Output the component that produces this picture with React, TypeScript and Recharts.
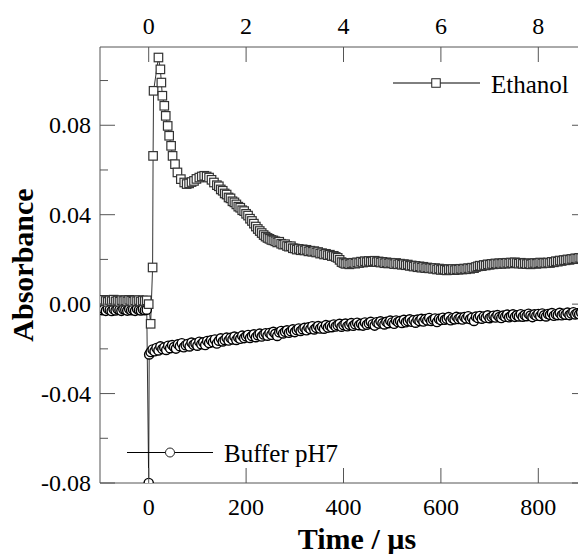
import { LineChart, Line, XAxis, YAxis, Customized } from 'recharts';

// Ethanol transient (time in µs, absorbance)
const ethanolTime = [
  -100, -96, -92, -88, -84, -80, -76, -72, -68, -64, -60, -56, -52, -48, -44, -40, -36, -32, -28, -24, -20, -16, -12, -8, -4,
  0, 4, 8, 9, 10, 20, 24, 26, 28, 32, 35, 39, 42, 46, 49, 54, 59, 66, 73, 78, 83, 88, 93, 98,
  104, 109, 114, 119, 124, 129, 134,
  140, 144, 148, 152, 156, 160, 164, 168, 172, 176,
  180, 184, 188, 192, 196, 200, 204, 208, 212, 216,
  220, 224, 228, 232, 236, 240, 244, 248, 252, 256,
  260, 264, 268, 272, 276, 280, 284, 288, 292, 296,
  300, 304, 308, 312, 316, 320, 324, 328, 332, 336,
  340, 344, 348, 352, 356, 360, 364, 368, 372, 376,
  380, 384, 388, 392, 396, 400, 404, 408, 412, 416,
  420, 424, 428, 432, 436, 440, 444, 448, 452, 456,
  460, 464, 468, 472, 476, 480, 484, 488, 492, 496,
  500, 504, 508, 512, 516, 520, 524, 528, 532, 536,
  540, 544, 548, 552, 556, 560, 564, 568, 572, 576,
  580, 584, 588, 592, 596, 600, 604, 608, 612, 616,
  620, 624, 628, 632, 636, 640, 644, 648, 652, 656,
  660, 664, 668, 672, 676, 680, 684, 688, 692, 696,
  700, 704, 708, 712, 716, 720, 724, 728, 732, 736,
  740, 744, 748, 752, 756, 760, 764, 768, 772, 776,
  780, 784, 788, 792, 796, 800, 804, 808, 812, 816,
  820, 824, 828, 832, 836, 840, 844, 848, 852, 856,
  860, 864, 868, 872, 876, 880, 884, 888, 892,
];
const ethanolAbs = [
  0.0016, 0.0012, 0.0019, 0.0014, 0.001, 0.0017, 0.0013, 0.002, 0.0012, 0.0016, 0.0011, 0.0018, 0.0014, 0.0017, 0.0012, 0.0019, 0.0015, 0.0011, 0.0017, 0.0013, 0.0018, 0.0012, 0.0016, 0.0014, 0.0017,
  0.0, -0.0088, 0.0164, 0.0663, 0.0954, 0.1103, 0.105, 0.0991, 0.0932, 0.0887, 0.0842, 0.0797, 0.0753, 0.0708, 0.0663, 0.0626, 0.0589, 0.0559, 0.0544, 0.0537, 0.054, 0.0546, 0.0551, 0.056,
  0.0566, 0.0571, 0.0574, 0.0571, 0.0566, 0.0556, 0.0544,
  0.0532, 0.0527, 0.0513, 0.0507, 0.0495, 0.049, 0.0477, 0.0473, 0.046, 0.0455,
  0.0446, 0.0436, 0.0431, 0.042, 0.0416, 0.0404, 0.0396, 0.0382, 0.0372, 0.036,
  0.0347, 0.0336, 0.0327, 0.0318, 0.0309, 0.0302, 0.0296, 0.0292, 0.0287, 0.0285,
  0.0281, 0.0276, 0.0279, 0.027, 0.0266, 0.0268, 0.026, 0.0257, 0.0259, 0.025,
  0.0249, 0.0244, 0.0247, 0.0241, 0.0245, 0.024, 0.0243, 0.0236, 0.0239, 0.0234,
  0.0237, 0.0231, 0.0233, 0.0226, 0.0228, 0.0222, 0.0225, 0.0219, 0.0221, 0.0215,
  0.0216, 0.0211, 0.0207, 0.0198, 0.0188, 0.0184, 0.018, 0.0183, 0.0178, 0.0182,
  0.0185, 0.0181, 0.0187, 0.0184, 0.019, 0.0186, 0.0192, 0.0188, 0.0193, 0.0189,
  0.0191, 0.0194, 0.0188, 0.0191, 0.0186, 0.0189, 0.0183, 0.0187, 0.0182, 0.0185,
  0.0183, 0.0179, 0.0184, 0.0178, 0.0181, 0.0176, 0.0179, 0.0174, 0.0177, 0.0171,
  0.0173, 0.0168, 0.0171, 0.0165, 0.0169, 0.0163, 0.0167, 0.0161, 0.0164, 0.016,
  0.0162, 0.0158, 0.0161, 0.0155, 0.0159, 0.0153, 0.0157, 0.0154, 0.0151, 0.0156,
  0.0153, 0.0157, 0.0152, 0.0156, 0.0154, 0.0158, 0.0155, 0.0159, 0.0156, 0.0161,
  0.0158, 0.0163, 0.0161, 0.0166, 0.0169, 0.0172, 0.017, 0.0175, 0.0173, 0.0178,
  0.0176, 0.018, 0.0178, 0.0182, 0.0179, 0.0183, 0.018, 0.0184, 0.0181, 0.0185,
  0.0182, 0.0186, 0.0183, 0.0187, 0.0184, 0.0181, 0.0185, 0.018, 0.0183, 0.0179,
  0.0182, 0.0178, 0.0181, 0.0184, 0.018, 0.0183, 0.0186, 0.0182, 0.0185, 0.0183,
  0.0186, 0.0184, 0.0189, 0.0187, 0.0192, 0.019, 0.0195, 0.0193, 0.0197, 0.0196,
  0.02, 0.0198, 0.0202, 0.0201, 0.0205, 0.0203, 0.0207, 0.0206, 0.0205,
];

// Buffer pH7 transient
const bufferTime = [
  -100, -96, -92, -88, -84, -80, -76, -72, -68, -64, -60, -56, -52, -48, -44, -40, -36, -32, -28, -24, -20, -16, -12, -8, -4,
  0, 1,
  4, 8, 12, 16, 20, 24, 28, 32, 36, 40,
  44, 48, 52, 56, 60, 64, 68, 72, 76, 80,
  84, 88, 92, 96, 100, 104, 108, 112, 116, 120,
  124, 128, 132, 136, 140, 144, 148, 152, 156, 160,
  164, 168, 172, 176, 180, 184, 188, 192, 196, 200,
  204, 208, 212, 216, 220, 224, 228, 232, 236, 240,
  244, 248, 252, 256, 260, 264, 268, 272, 276, 280,
  284, 288, 292, 296, 300, 304, 308, 312, 316, 320,
  324, 328, 332, 336, 340, 344, 348, 352, 356, 360,
  364, 368, 372, 376, 380, 384, 388, 392, 396, 400,
  404, 408, 412, 416, 420, 424, 428, 432, 436, 440,
  444, 448, 452, 456, 460, 464, 468, 472, 476, 480,
  484, 488, 492, 496, 500, 504, 508, 512, 516, 520,
  524, 528, 532, 536, 540, 544, 548, 552, 556, 560,
  564, 568, 572, 576, 580, 584, 588, 592, 596, 600,
  604, 608, 612, 616, 620, 624, 628, 632, 636, 640,
  644, 648, 652, 656, 660, 664, 668, 672, 676, 680,
  684, 688, 692, 696, 700, 704, 708, 712, 716, 720,
  724, 728, 732, 736, 740, 744, 748, 752, 756, 760,
  764, 768, 772, 776, 780, 784, 788, 792, 796, 800,
  804, 808, 812, 816, 820, 824, 828, 832, 836, 840,
  844, 848, 852, 856, 860, 864, 868, 872, 876, 880,
  884, 888, 892,
];
const bufferAbs = [
  -0.0022, -0.0027, -0.0024, -0.003, -0.0021, -0.0026, -0.0031, -0.0023, -0.0028, -0.0022, -0.0026, -0.003, -0.0023, -0.0025, -0.0029, -0.0022, -0.0027, -0.0024, -0.003, -0.0021, -0.0026, -0.0028, -0.0023, -0.0027, -0.0025,
  -0.08, -0.0225,
  -0.0214, -0.0203, -0.0211, -0.0196, -0.0207, -0.0189, -0.0201, -0.0194, -0.0205, -0.0186,
  -0.0197, -0.0183, -0.0192, -0.0199, -0.018, -0.0188, -0.0175, -0.0193, -0.0184, -0.0178,
  -0.0189, -0.0172, -0.0182, -0.0176, -0.0186, -0.0168, -0.0179, -0.0171, -0.0183, -0.0165,
  -0.0174, -0.0162, -0.017, -0.0158, -0.0176, -0.0164, -0.0153, -0.0167, -0.016, -0.015,
  -0.0163, -0.0151, -0.0158, -0.0145, -0.016, -0.0149, -0.0155, -0.0141, -0.0152, -0.0144,
  -0.0138, -0.0151, -0.0143, -0.0135, -0.0148, -0.0139, -0.0132, -0.0145, -0.0136, -0.013,
  -0.0141, -0.0129, -0.0137, -0.0124, -0.0133, -0.0142, -0.0126, -0.012, -0.0131, -0.0123,
  -0.0117, -0.0128, -0.0121, -0.0113, -0.0125, -0.0116, -0.0109, -0.012, -0.0112, -0.0106,
  -0.0117, -0.0104, -0.0111, -0.0099, -0.0113, -0.0106, -0.0098, -0.0109, -0.0101, -0.011,
  -0.0094, -0.0105, -0.0097, -0.0103, -0.0091, -0.01, -0.0094, -0.0088, -0.0101, -0.0093,
  -0.0087, -0.0099, -0.0092, -0.0085, -0.0097, -0.009, -0.0083, -0.0094, -0.0088, -0.0096,
  -0.0082, -0.0092, -0.0085, -0.0079, -0.009, -0.0096, -0.0081, -0.0087, -0.0077, -0.0086,
  -0.0091, -0.0079, -0.0085, -0.0074, -0.0082, -0.0088, -0.0073, -0.008, -0.0076, -0.0084,
  -0.007, -0.0081, -0.0075, -0.0068, -0.0079, -0.0072, -0.0083, -0.0069, -0.0076, -0.0066,
  -0.0078, -0.0067, -0.0073, -0.0062, -0.0075, -0.0069, -0.0064, -0.008, -0.0066, -0.0071,
  -0.0061, -0.007, -0.0065, -0.0058, -0.0072, -0.0063, -0.0068, -0.0057, -0.0066, -0.006,
  -0.0069, -0.0058, -0.0064, -0.0054, -0.0067, -0.0061, -0.0075, -0.0056, -0.0062, -0.0053,
  -0.0065, -0.0055, -0.0061, -0.005, -0.0063, -0.0057, -0.0052, -0.006, -0.0049, -0.0058,
  -0.0062, -0.0051, -0.0056, -0.0047, -0.0059, -0.0053, -0.0046, -0.0057, -0.005, -0.0055,
  -0.0045, -0.0056, -0.0049, -0.0054, -0.0043, -0.0051, -0.0058, -0.0046, -0.0052, -0.0044,
  -0.0053, -0.0042, -0.005, -0.0055, -0.0044, -0.0048, -0.004, -0.0052, -0.0045, -0.0049,
  -0.0039, -0.005, -0.0043, -0.0047, -0.0038, -0.0049, -0.0042, -0.0036, -0.0046, -0.0041,
  -0.0045, -0.0038, -0.0043,
];

const xTicks = [0, 200, 400, 600, 800];
const yTicks = [-0.08, -0.06, -0.04, -0.02, 0, 0.02, 0.04, 0.06, 0.08, 0.1];

const ethanolData = ethanolTime.map((t, i) => ({ t, v: ethanolAbs[i] }));
const bufferData = bufferTime.map((t, i) => ({ t, v: bufferAbs[i] }));

const FONT = '"Liberation Serif", "Times New Roman", serif';
const AXIS = '#555';

const isMajor = (v: number) => Math.round(v * 100) % 4 === 0;

function LeftTick({ x, y, payload }: any) {
  const major = isMajor(payload.value);
  return (
    <g>
      <line x1={x} x2={x + (major ? 15 : 8)} y1={y} y2={y} stroke={AXIS} />
      {major && (
        <text x={x - 9} y={y} textAnchor="end" dominantBaseline="central" fontSize={24} fontFamily={FONT} fill="#000">
          {payload.value.toFixed(2)}
        </text>
      )}
    </g>
  );
}

function RightTick({ x, y, payload }: any) {
  const major = isMajor(payload.value);
  return <line x1={x} x2={x - (major ? 15 : 8)} y1={y} y2={y} stroke={AXIS} />;
}

function BottomTick({ x, y, payload }: any) {
  return (
    <g>
      <line x1={x} x2={x} y1={y} y2={y - 15} stroke={AXIS} />
      <text x={x} y={y + 32} textAnchor="middle" fontSize={24} fontFamily={FONT} fill="#000">
        {payload.value}
      </text>
    </g>
  );
}

function TopTick({ x, y, payload }: any) {
  return (
    <g>
      <line x1={x} x2={x} y1={y} y2={y + 15} stroke={AXIS} />
      <text x={x} y={y - 13} textAnchor="middle" fontSize={24} fontFamily={FONT} fill="#000">
        {payload.value / 100}
      </text>
    </g>
  );
}

const squareDot = (p: any) => (
  <rect key={`e-${p.index}`} x={p.cx - 4.25} y={p.cy - 4.25} width={8.5} height={8.5} fill="#fff" stroke="#333" strokeWidth={1.2} />
);
const circleDot = (p: any) => (
  <circle key={`b-${p.index}`} cx={p.cx} cy={p.cy} r={4.6} fill="#fff" stroke="#000" strokeWidth={1.4} />
);

function Overlay() {
  return (
    <g fontFamily={FONT}>
      <text transform="translate(33,265) rotate(-90)" textAnchor="middle" fontSize={30} fontWeight="bold" fill="#000">
        Absorbance
      </text>
      <text x={357} y={549} textAnchor="middle" fontSize={30} fontWeight="bold" fill="#000">
        Time / µs
      </text>
      {/* legend */}
      <line x1={393} x2={480} y1={83} y2={83} stroke="#000" />
      <rect x={431.75} y={78.75} width={8.5} height={8.5} fill="#fff" stroke="#222" />
      <text x={491} y={92.5} fontSize={25} fill="#000">Ethanol</text>
      <line x1={127} x2={213} y1={452.5} y2={452.5} stroke="#000" />
      <circle cx={170} cy={452.5} r={4.5} fill="#fff" stroke="#222" />
      <text x={224} y={462} fontSize={25} fill="#000">Buffer pH7</text>
    </g>
  );
}

export default function App() {
  return (
    <div style={{ position: 'fixed', left: 0, top: 0, width: 578, height: 554, overflow: 'hidden', background: '#fff' }}>
      <LineChart width={597} height={554} margin={{ top: 0, right: 0, bottom: 0, left: 0 }}>
        <XAxis
          dataKey="t"
          type="number"
          domain={[-100, 900]}
          ticks={xTicks}
          interval={0}
          height={71}
          tickSize={0}
          tickMargin={0}
          tick={<BottomTick />}
          axisLine={{ stroke: AXIS }}
          allowDataOverflow
        />
        <XAxis
          xAxisId="top"
          orientation="top"
          dataKey="t"
          type="number"
          domain={[-100, 900]}
          ticks={xTicks}
          interval={0}
          height={47}
          tickSize={0}
          tickMargin={0}
          tick={<TopTick />}
          axisLine={{ stroke: AXIS }}
          allowDataOverflow
        />
        <YAxis
          type="number"
          domain={[-0.08, 0.115]}
          ticks={yTicks}
          interval={0}
          width={100}
          tickSize={0}
          tickMargin={0}
          tick={<LeftTick />}
          axisLine={{ stroke: AXIS }}
          allowDataOverflow
        />
        <YAxis
          yAxisId="right"
          orientation="right"
          type="number"
          domain={[-0.08, 0.115]}
          ticks={yTicks}
          interval={0}
          width={10}
          tickSize={0}
          tickMargin={0}
          tick={<RightTick />}
          axisLine={{ stroke: AXIS }}
          allowDataOverflow
        />
        <Line
          data={bufferData}
          dataKey="v"
          type="linear"
          stroke="#000"
          strokeWidth={0.8}
          dot={circleDot}
          activeDot={false}
          isAnimationActive={false}
        />
        <Line
          data={ethanolData}
          dataKey="v"
          type="linear"
          stroke="#000"
          strokeWidth={0.8}
          dot={squareDot}
          activeDot={false}
          isAnimationActive={false}
        />
        <Customized component={Overlay} />
      </LineChart>
    </div>
  );
}
